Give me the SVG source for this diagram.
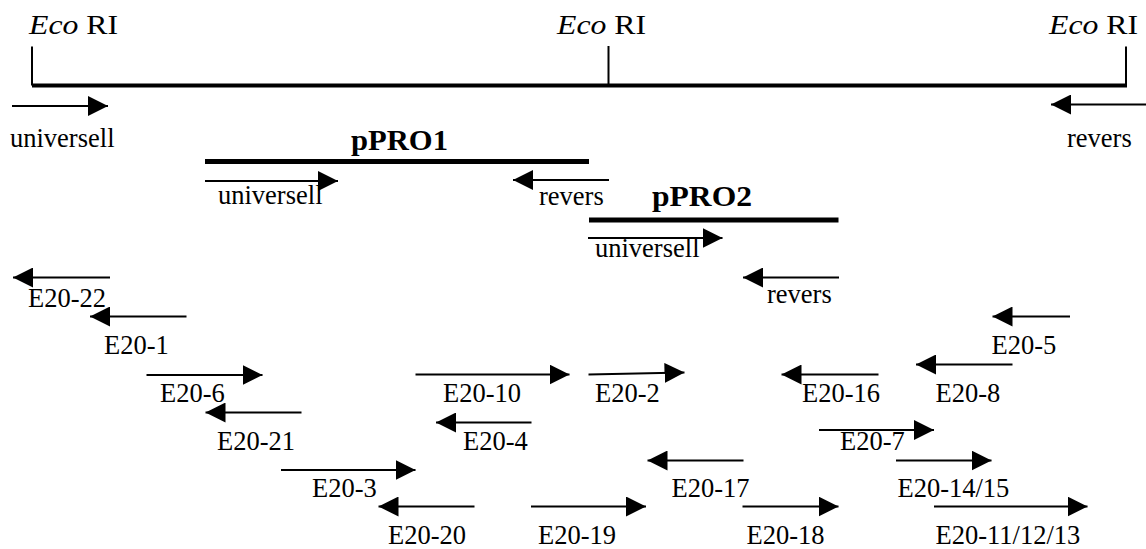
<svg xmlns="http://www.w3.org/2000/svg" width="1146" height="549" viewBox="0 0 1146 549">
  <style>
    text { font-family: "Liberation Serif", "Times New Roman", serif; fill: #000; }
    .lbl { font-size: 26.5px; }
    .site { font-size: 28px; }
    .clone { font-size: 30px; font-weight: bold; }
    .primer { stroke: #000; stroke-width: 1.8; fill: none; marker-end: url(#head); }
    .map { stroke: #000; stroke-width: 4; fill: none; }
    .tick { stroke: #000; stroke-width: 2; fill: none; }
    .insert { stroke: #000; stroke-width: 5; fill: none; }
  </style>
  <defs>
    <marker id="head" viewBox="0 0 20 20" refX="20" refY="10" markerWidth="20" markerHeight="20" markerUnits="userSpaceOnUse" orient="auto">
      <path d="M0,0 L20,10 L0,20 Z" fill="#000"/>
    </marker>
  </defs>
  <rect width="1146" height="549" fill="#fff"/>

  <!-- vector map with the three EcoRI sites -->
  <g id="vector">
    <line class="map" x1="32" y1="85.5" x2="1127" y2="85.5"/>
    <line class="tick" x1="32" y1="46.5" x2="32" y2="85.5"/>
    <line class="tick" x1="608.5" y1="46" x2="608.5" y2="85.5"/>
    <line class="tick" x1="1126" y1="46.5" x2="1126" y2="85.5"/>
    <text class="site" x="29" y="34" textLength="89" lengthAdjust="spacingAndGlyphs"><tspan font-style="italic">Eco</tspan> RI</text>
    <text class="site" x="557" y="34" textLength="89" lengthAdjust="spacingAndGlyphs"><tspan font-style="italic">Eco</tspan> RI</text>
    <text class="site" x="1049" y="34" textLength="89" lengthAdjust="spacingAndGlyphs"><tspan font-style="italic">Eco</tspan> RI</text>
  </g>

  <g id="connectors">
    <!-- vector primers -->
    <g id="vec-universell">
      <line class="primer" x1="12" y1="106" x2="108" y2="106"/>
      <text class="lbl" x="10" y="147">universell</text>
    </g>
    <g id="vec-revers">
      <line class="primer" x1="1146" y1="104.5" x2="1051" y2="104.5"/>
      <text class="lbl" x="1067" y="147">revers</text>
    </g>

    <!-- pPRO1 insert -->
    <g id="pPRO1">
      <line class="insert" x1="205" y1="161.5" x2="589" y2="161.5"/>
      <text class="clone" x="351" y="149.5" textLength="97" lengthAdjust="spacingAndGlyphs">pPRO1</text>
      <line class="primer" x1="205" y1="181" x2="338" y2="181"/>
      <text class="lbl" x="218" y="204">universell</text>
      <line class="primer" x1="609" y1="180" x2="513" y2="180"/>
      <text class="lbl" x="539" y="205">revers</text>
    </g>

    <!-- pPRO2 insert -->
    <g id="pPRO2">
      <line class="insert" x1="589" y1="220" x2="838.5" y2="220"/>
      <text class="clone" x="652" y="205.5" textLength="100" lengthAdjust="spacingAndGlyphs">pPRO2</text>
      <line class="primer" x1="588" y1="238" x2="722.5" y2="238"/>
      <text class="lbl" x="595" y="257">universell</text>
      <line class="primer" x1="839" y1="277.5" x2="743" y2="277.5"/>
      <text class="lbl" x="767" y="303">revers</text>
    </g>

    <!-- sequencing primers -->
    <g id="E20-22">
      <line class="primer" x1="110" y1="277.5" x2="13" y2="277.5"/>
      <text class="lbl" x="28" y="306.5">E20-22</text>
    </g>
    <g id="E20-1">
      <line class="primer" x1="186.5" y1="316.5" x2="90" y2="316.5"/>
      <text class="lbl" x="104" y="354">E20-1</text>
    </g>
    <g id="E20-6">
      <line class="primer" x1="146.5" y1="375" x2="262.5" y2="375"/>
      <text class="lbl" x="160" y="402">E20-6</text>
    </g>
    <g id="E20-21">
      <line class="primer" x1="301.5" y1="412.5" x2="205.5" y2="412.5"/>
      <text class="lbl" x="217" y="450">E20-21</text>
    </g>
    <g id="E20-3">
      <line class="primer" x1="281" y1="470" x2="415.5" y2="470"/>
      <text class="lbl" x="312" y="497">E20-3</text>
    </g>
    <g id="E20-20">
      <line class="primer" x1="474.5" y1="506.5" x2="378.5" y2="506.5"/>
      <text class="lbl" x="388" y="544">E20-20</text>
    </g>
    <g id="E20-4">
      <line class="primer" x1="531.5" y1="422.5" x2="436" y2="422.5"/>
      <text class="lbl" x="463" y="450">E20-4</text>
    </g>
    <g id="E20-10">
      <line class="primer" x1="415.5" y1="374.5" x2="569.5" y2="374.5"/>
      <text class="lbl" x="443" y="402">E20-10</text>
    </g>
    <g id="E20-2">
      <line class="primer" x1="588.5" y1="374.5" x2="684.5" y2="372.5"/>
      <text class="lbl" x="595" y="402">E20-2</text>
    </g>
    <g id="E20-19">
      <line class="primer" x1="531" y1="506.5" x2="646" y2="506.5"/>
      <text class="lbl" x="538" y="544">E20-19</text>
    </g>
    <g id="E20-17">
      <line class="primer" x1="743.5" y1="460.5" x2="647.5" y2="460.5"/>
      <text class="lbl" x="671.5" y="497">E20-17</text>
    </g>
    <g id="E20-18">
      <line class="primer" x1="742.5" y1="506.5" x2="838.5" y2="506.5"/>
      <text class="lbl" x="746.5" y="544">E20-18</text>
    </g>
    <g id="E20-16">
      <line class="primer" x1="878.5" y1="374.5" x2="781.5" y2="374.5"/>
      <text class="lbl" x="802" y="402">E20-16</text>
    </g>
    <g id="E20-7">
      <line class="primer" x1="819" y1="430" x2="934" y2="430"/>
      <text class="lbl" x="840" y="449.5">E20-7</text>
    </g>
    <g id="E20-5">
      <line class="primer" x1="1070" y1="316.5" x2="992.5" y2="316.5"/>
      <text class="lbl" x="991.5" y="353.5">E20-5</text>
    </g>
    <g id="E20-8">
      <line class="primer" x1="1012.5" y1="364.5" x2="916" y2="364.5"/>
      <text class="lbl" x="935.5" y="402">E20-8</text>
    </g>
    <g id="E20-14-15">
      <line class="primer" x1="896" y1="460.5" x2="991.5" y2="460.5"/>
      <text class="lbl" x="897.5" y="497">E20-14/15</text>
    </g>
    <g id="E20-11-12-13">
      <line class="primer" x1="934" y1="506.5" x2="1087.5" y2="506.5"/>
      <text class="lbl" x="935.5" y="544">E20-11/12/13</text>
    </g>
  </g>
</svg>
